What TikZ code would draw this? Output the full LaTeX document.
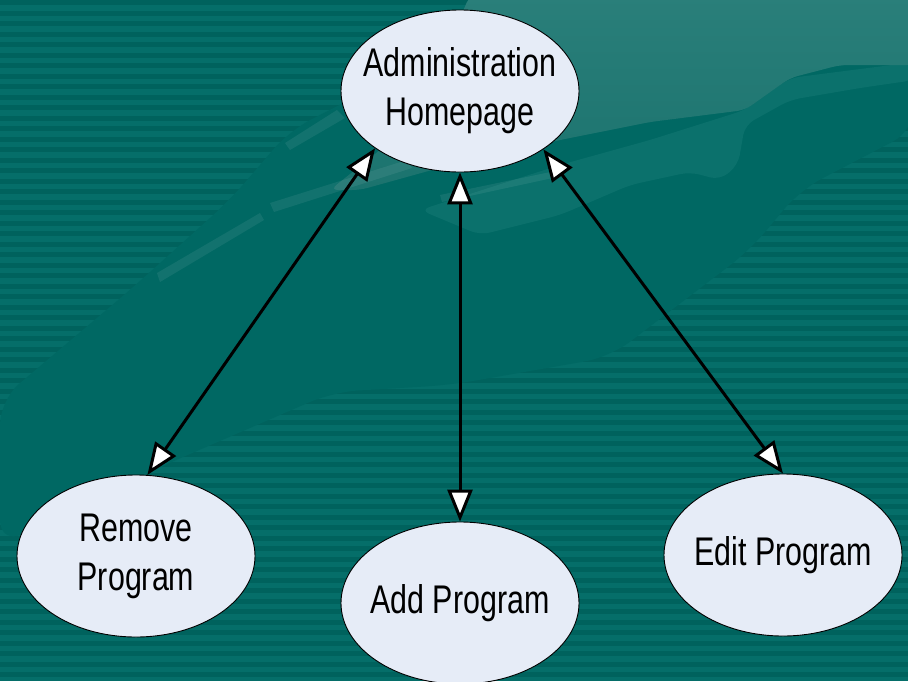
\documentclass[tikz,border=0pt]{standalone}
\usepackage{fontspec}
\setmainfont{Liberation Sans}[FakeStretch=0.76]
\usetikzlibrary{shapes.geometric,arrows.meta}
\definecolor{bgbase}{HTML}{056E69}
\definecolor{bgstripe}{HTML}{00625D}
\definecolor{bgband}{HTML}{006863}
\definecolor{bglight}{HTML}{2A7F7A}
\definecolor{bglightb}{HTML}{1B736E}
\definecolor{bgmid}{HTML}{0B716C}
\definecolor{nodefill}{HTML}{E6ECF7}
\tikzset{
  usecasetext/.style={align=center, inner sep=0pt, text=black,
    font=\fontsize{40}{49}\selectfont},
  usecase/.style={ellipse, draw=black, line width=0.9pt, fill=nodefill,
    minimum width=238pt, minimum height=162pt, inner sep=0pt},
  biarrow/.style={line width=3pt,
    {Triangle[length=32pt,width=25pt,fill=white]}-{Triangle[length=32pt,width=25pt,fill=white]}},
  streak/.style={fill=white, fill opacity=0.07}
}
\begin{document}
\begin{tikzpicture}[x=1pt,y=-1pt]
\useasboundingbox (0,0) rectangle (908,681);
% background
\fill[bgbase] (0,0) rectangle (908,681);
\foreach \yy in {0,10.5,...,681} \fill[bgstripe] (0,\yy) rectangle (908,\yy+5);
% uniform diagonal band
\fill[bgband, rounded corners=25pt] (0,400) -- (130,290) -- (230,200) -- (290,130) -- (340,105) -- (420,60) -- (480,-5) -- (915,-5) -- (915,130) -- (800,190) -- (750,250) -- (610,357) -- (450,385) -- (333,392) -- (160,467) -- (0,545) -- cycle;
% mid-tone streak
\fill[bgmid, rounded corners=10pt] (420,210) -- (560,165) -- (650,140) -- (745,110) -- (790,78) -- (915,62) -- (915,80) -- (860,88) -- (790,100) -- (745,125) -- (738,165) -- (720,180) -- (690,172) -- (630,185) -- (560,215) -- (480,235) -- cycle;
% light swoosh
\shade[top color=bglight, bottom color=bglightb, rounded corners=8pt] (470,-5) -- (915,-5) -- (915,65) -- (840,65) -- (790,78) -- (745,110) -- (650,122) -- (560,140) -- (450,165) -- (360,190) -- (330,190) -- (380,150) -- (420,110) -- cycle;
% light streaks
\fill[streak] (285,143) -- (337,110) -- (345,118) -- (290,150) -- cycle;
\fill[streak] (270,203) -- (407,160) -- (412,168) -- (274,212) -- cycle;
\fill[streak] (157,273) -- (260,213) -- (264,220) -- (160,282) -- cycle;
\fill[streak] (440,195) -- (560,170) -- (562,176) -- (442,202) -- cycle;
% nodes
\node[usecase, label={[usecasetext]center:Administration\\Homepage}] (admin) at (460,91) {};
\node[usecase, label={[usecasetext]center:Remove\\Program}] (remove) at (136,556) {};
\node[usecase, label={[usecasetext]center:Add Program}] (add) at (460,603) {};
\node[usecase, label={[usecasetext]center:Edit Program}] (edit) at (783,555) {};
% connectors
\draw[biarrow] (remove.82) -- (admin.214);
\draw[biarrow] (add.north) -- (admin.south);
\draw[biarrow] (edit.north) -- (admin.-35);
\end{tikzpicture}
\end{document}
